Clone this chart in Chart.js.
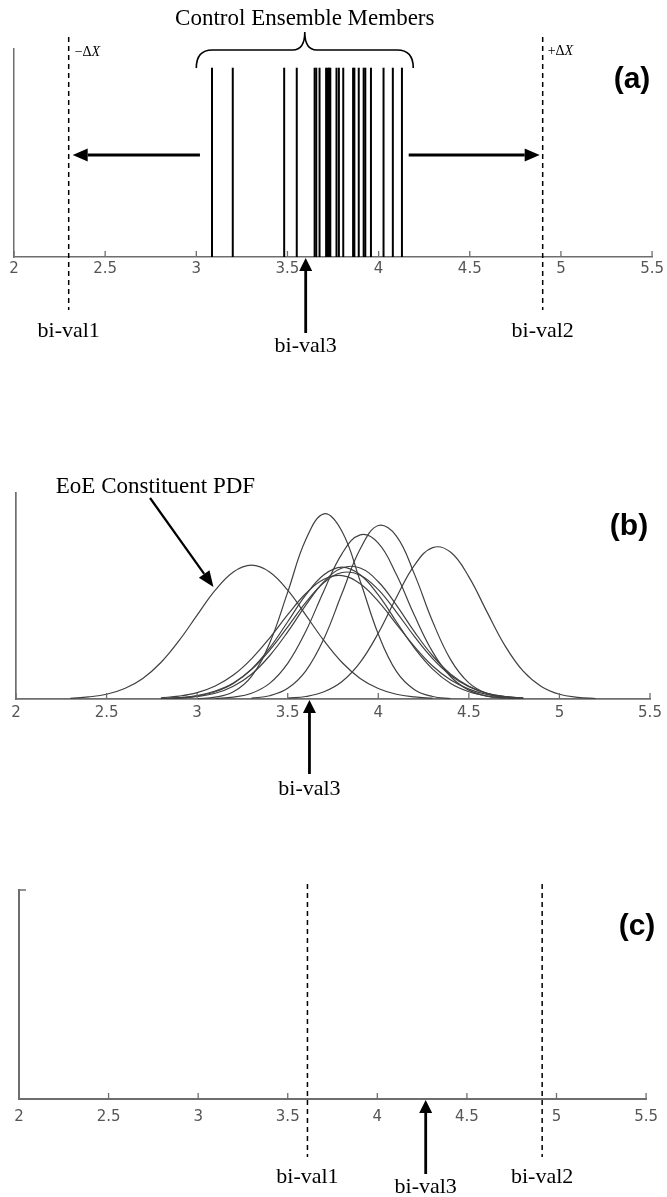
<!DOCTYPE html>
<html>
<head>
<meta charset="utf-8">
<script src="https://cdn.jsdelivr.net/npm/chart.js@4.4.1/dist/chart.umd.min.js"></script>
<style>
  html, body { margin: 0; padding: 0; background: #fff; }
  body { width: 667px; height: 1197px; position: relative; overflow: hidden; }
  canvas { position: absolute; left: 0; }
</style>
</head>
<body>
<canvas id="panelA" width="667" height="360" style="top:0px"></canvas>
<canvas id="panelB" width="667" height="445" style="top:360px"></canvas>
<canvas id="panelC" width="667" height="392" style="top:805px"></canvas>
<script>
// x axis shared by all three panels
const xTicks = [2, 2.5, 3, 3.5, 4, 4.5, 5, 5.5];
const xMin = 2;
const xMax = 5.5;

// (a) control ensemble members
const members = [3.086, 3.200, 3.482, 3.551, 3.649, 3.658, 3.676, 3.712, 3.720, 3.728, 3.735,
                 3.769, 3.782, 3.806, 3.860, 3.867, 3.891, 3.918, 3.927, 3.958, 4.027, 4.078, 4.128];
const memberHeight = 0.91;
const biVal1A = 2.30;
const biVal2A = 4.90;
const biVal3A = 3.60;

// (b) EoE constituent PDFs, sampled on pdfX
const _ = null;
const pdfX = [2.3, 2.4, 2.5, 2.6, 2.7, 2.8, 2.9, 3.0, 3.1, 3.2, 3.3, 3.4, 3.5, 3.6, 3.7,
              3.8, 3.9, 4.0, 4.1, 4.2, 4.3, 4.4, 4.5, 4.6, 4.7, 4.8, 4.9, 5.0, 5.1, 5.2];
const pdfE = [0.003, 0.010, 0.023, 0.051, 0.100, 0.177, 0.283, 0.407, 0.528, 0.617, 0.650, 0.617, 0.528, 0.407, 0.283,
              0.177, 0.100, 0.051, 0.023, 0.010, 0.004, _, _, _, _, _, _, _, _, _];
const pdfA = [_, _, _, _, _, _, _, 0.002, 0.009, 0.035, 0.110, 0.271, 0.519, 0.774, 0.899,
              0.813, 0.573, 0.315, 0.134, 0.045, 0.012, 0.002, _, _, _, _, _, _, _, _];
const pdfB = [_, _, _, _, _, _, _, _, _, _, 0.004, 0.016, 0.052, 0.137, 0.293,
              0.513, 0.728, 0.842, 0.791, 0.605, 0.376, 0.190, 0.078, 0.026, 0.007, 0.002, _, _, _, _];
const pdfC = [_, _, _, _, _, _, _, _, 0.002, 0.009, 0.028, 0.076, 0.173, 0.329, 0.526,
              0.706, 0.797, 0.757, 0.604, 0.405, 0.229, 0.108, 0.043, 0.014, 0.004, _, _, _, _, _];
const pdfD = [_, _, _, _, _, _, _, _, _, _, _, _, 0.004, 0.012, 0.035,
              0.085, 0.178, 0.320, 0.493, 0.650, 0.735, 0.712, 0.593, 0.423, 0.258, 0.135, 0.061, 0.023, 0.008, 0.002];
const pdfF = [_, _, _, _, _, 0.001, 0.004, 0.012, 0.028, 0.062, 0.120, 0.210, 0.326, 0.456, 0.569,
              0.636, 0.636, 0.569, 0.456, 0.326, 0.210, 0.120, 0.062, 0.028, 0.012, 0.004, _, _, _, _];
const pdfG = [_, _, _, _, _, 0.002, 0.005, 0.014, 0.035, 0.075, 0.145, 0.247, 0.375, 0.505, 0.603,
              0.640, 0.603, 0.505, 0.375, 0.247, 0.145, 0.075, 0.035, 0.014, 0.005, 0.002, _, _, _, _];
const pdfH = [_, _, _, _, _, 0.002, 0.007, 0.017, 0.039, 0.078, 0.143, 0.236, 0.350, 0.469, 0.565,
              0.614, 0.601, 0.531, 0.422, 0.303, 0.196, 0.114, 0.060, 0.028, 0.012, 0.005, _, _, _, _];
const pdfI = [_, _, _, _, _, 0.006, 0.014, 0.031, 0.063, 0.116, 0.195, 0.296, 0.409, 0.512, 0.581,
              0.599, 0.559, 0.474, 0.364, 0.254, 0.160, 0.092, 0.048, 0.022, 0.010, 0.004, _, _, _, _];
const pdfCurves = [pdfE, pdfA, pdfB, pdfC, pdfD, pdfF, pdfG, pdfH, pdfI];
const biVal3B = 3.62;

// (c)
const biVal1C = 3.61;
const biVal2C = 4.92;
const biVal3C = 4.27;

const axisColor = '#6e6e6e';
const serif = '"Liberation Serif", "Times New Roman", serif';

function px(chart, v) {
    return chart.scales.x.getPixelForValue(v);
}

function drawArrow(ctx, x1, y1, x2, y2, w, headLen, headW) {
    const a = Math.atan2(y2 - y1, x2 - x1);
    const bx = x2 - headLen * Math.cos(a);
    const by = y2 - headLen * Math.sin(a);
    ctx.save();
    ctx.strokeStyle = '#000';
    ctx.fillStyle = '#000';
    ctx.lineWidth = w;
    ctx.setLineDash([]);
    ctx.beginPath();
    ctx.moveTo(x1, y1);
    ctx.lineTo(bx, by);
    ctx.stroke();
    ctx.beginPath();
    ctx.moveTo(x2, y2);
    ctx.lineTo(bx + headW / 2 * Math.sin(a), by - headW / 2 * Math.cos(a));
    ctx.lineTo(bx - headW / 2 * Math.sin(a), by + headW / 2 * Math.cos(a));
    ctx.closePath();
    ctx.fill();
    ctx.restore();
}

function drawDashed(ctx, x, y1, y2) {
    ctx.save();
    ctx.strokeStyle = '#000';
    ctx.lineWidth = 1.5;
    ctx.setLineDash([5, 4]);
    ctx.beginPath();
    ctx.moveTo(x, y1);
    ctx.lineTo(x, y2);
    ctx.stroke();
    ctx.restore();
}

function drawText(ctx, text, x, y, font, align) {
    ctx.save();
    ctx.fillStyle = '#000';
    ctx.font = font;
    ctx.textAlign = align || 'center';
    ctx.textBaseline = 'middle';
    ctx.fillText(text, x, y);
    ctx.restore();
}

// "−ΔX" / "+ΔX" with an italic X
function drawDelta(ctx, prefix, x, y) {
    ctx.save();
    ctx.fillStyle = '#000';
    ctx.textBaseline = 'middle';
    ctx.textAlign = 'left';
    ctx.font = '14px ' + serif;
    ctx.fillText(prefix, x, y);
    const w = ctx.measureText(prefix).width;
    ctx.font = 'italic 14px ' + serif;
    ctx.fillText('X', x + w, y);
    ctx.restore();
}

// tick marks pointing up into the plot, as in the original
function drawInnerTicks(chart) {
    const ctx = chart.ctx;
    const xs = chart.scales.x;
    const bottom = chart.chartArea.bottom;
    ctx.save();
    ctx.strokeStyle = axisColor;
    ctx.lineWidth = 1.3;
    xs.ticks.forEach(t => {
        const x = xs.getPixelForValue(t.value);
        ctx.beginPath();
        ctx.moveTo(x, bottom);
        ctx.lineTo(x, bottom - 6);
        ctx.stroke();
    });
    ctx.restore();
}

function drawBrace(ctx, left, right, yEnd, yBar, yTip) {
    const mid = (left + right) / 2;
    ctx.save();
    ctx.strokeStyle = '#000';
    ctx.lineWidth = 1.6;
    ctx.beginPath();
    ctx.moveTo(left, yEnd);
    ctx.quadraticCurveTo(left, yBar, left + 16, yBar);
    ctx.lineTo(mid - 12, yBar);
    ctx.quadraticCurveTo(mid, yBar, mid, yTip);
    ctx.quadraticCurveTo(mid, yBar, mid + 12, yBar);
    ctx.lineTo(right - 16, yBar);
    ctx.quadraticCurveTo(right, yBar, right, yEnd);
    ctx.stroke();
    ctx.restore();
}

function baseOptions(padding, tickPad, axisWidth) {
    return {
        responsive: false,
        animation: false,
        events: [],
        layout: { padding: padding },
        plugins: {
            legend: { display: false },
            tooltip: { enabled: false }
        },
        scales: {
            x: {
                type: 'linear',
                min: xMin,
                max: xMax,
                afterBuildTicks: s => { s.ticks = xTicks.map(v => ({ value: v })); },
                afterFit: s => { s.height = 30; },
                grid: { display: false, drawTicks: false },
                border: { display: true, color: axisColor, width: axisWidth },
                ticks: {
                    padding: tickPad,
                    color: '#555',
                    maxRotation: 0,
                    autoSkip: false,
                    font: { family: 'DejaVu Sans', size: 15 },
                    callback: v => String(v)
                }
            },
            y: {
                min: 0,
                max: 1,
                afterFit: s => { s.width = 0; },
                grid: { display: false, drawTicks: false },
                border: { display: true, color: axisColor, width: axisWidth },
                ticks: { display: false }
            }
        }
    };
}

// Panel (a)
new Chart(document.getElementById('panelA'), {
    type: 'line',
    data: {
        datasets: members.map(v => ({
            data: [{ x: v, y: 0 }, { x: v, y: memberHeight }],
            borderColor: '#000',
            borderWidth: 2,
            pointRadius: 0,
            tension: 0
        }))
    },
    options: baseOptions({ left: 14, right: 12, top: 49, bottom: 73 }, 3, 1.5),
    plugins: [{
        id: 'notesA',
        afterDraw(chart) {
            const ctx = chart.ctx;
            const area = chart.chartArea;
            drawInnerTicks(chart);
            const l = px(chart, biVal1A);
            const r = px(chart, biVal2A);
            drawDashed(ctx, l, 37, 310);
            drawDashed(ctx, r, 37, 310);
            drawDelta(ctx, '\u2212\u0394', l + 6, 52);
            drawDelta(ctx, '+\u0394', r + 5, 51);
            drawBrace(ctx, px(chart, 3.0), px(chart, 4.19), 68, 50, 32);
            drawText(ctx, 'Control Ensemble Members', px(chart, 3.595), 19, '23px ' + serif);
            drawArrow(ctx, px(chart, 3.02), 155, l + 4, 155, 2.8, 15, 13);
            drawArrow(ctx, px(chart, 4.165), 155, r - 3, 155, 2.8, 15, 13);
            const b3 = px(chart, biVal3A);
            drawArrow(ctx, b3, 333, b3, area.bottom + 1, 2.8, 13, 13);
            drawText(ctx, 'bi-val1', l, 331, '22px ' + serif);
            drawText(ctx, 'bi-val2', r, 331, '22px ' + serif);
            drawText(ctx, 'bi-val3', b3, 346, '22px ' + serif);
            drawText(ctx, '(a)', 632, 80, 'bold 30px "Liberation Sans", Arial, sans-serif');
        }
    }]
});

// Panel (b)
new Chart(document.getElementById('panelB'), {
    type: 'line',
    data: {
        datasets: pdfCurves.map(c => ({
            data: pdfX.map((x, i) => ({ x: x, y: c[i] })),
            borderColor: '#404040',
            borderWidth: 1.2,
            pointRadius: 0,
            tension: 0.4
        }))
    },
    options: baseOptions({ left: 16, right: 17, top: 133, bottom: 76 }, 5, 1.7),
    plugins: [{
        id: 'notesB',
        afterDraw(chart) {
            const ctx = chart.ctx;
            const area = chart.chartArea;
            drawInnerTicks(chart);
            drawText(ctx, 'EoE Constituent PDF', px(chart, 2.77), 127, '23px ' + serif);
            drawArrow(ctx, px(chart, 2.74), 138, px(chart, 3.09), 227, 2.2, 16, 13);
            const b3 = px(chart, biVal3B);
            drawArrow(ctx, b3, 414, b3, area.bottom + 1, 2.8, 13, 13);
            drawText(ctx, 'bi-val3', b3, 429, '22px ' + serif);
            drawText(ctx, '(b)', 629, 167, 'bold 30px "Liberation Sans", Arial, sans-serif');
        }
    }]
});

// Panel (c)
new Chart(document.getElementById('panelC'), {
    type: 'line',
    data: { datasets: [] },
    options: baseOptions({ left: 19, right: 11, top: 85, bottom: 68 }, 9, 2),
    plugins: [{
        id: 'notesC',
        afterDraw(chart) {
            const ctx = chart.ctx;
            const area = chart.chartArea;
            drawInnerTicks(chart);
            ctx.save();
            ctx.strokeStyle = axisColor;
            ctx.lineWidth = 1.5;
            ctx.beginPath();
            ctx.moveTo(area.left, area.top);
            ctx.lineTo(area.left + 7, area.top);
            ctx.stroke();
            ctx.restore();
            const l = px(chart, biVal1C);
            const r = px(chart, biVal2C);
            drawDashed(ctx, l, 79, 352);
            drawDashed(ctx, r, 79, 352);
            const b3 = px(chart, biVal3C);
            drawArrow(ctx, b3, 369, b3, area.bottom + 1, 2.8, 13, 13);
            drawText(ctx, 'bi-val1', l, 372, '22px ' + serif);
            drawText(ctx, 'bi-val2', r, 372, '22px ' + serif);
            drawText(ctx, 'bi-val3', b3, 382, '22px ' + serif);
            drawText(ctx, '(c)', 637, 122, 'bold 30px "Liberation Sans", Arial, sans-serif');
        }
    }]
});
</script>
</body>
</html>
